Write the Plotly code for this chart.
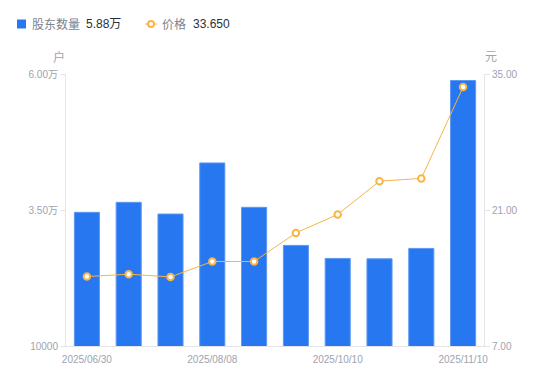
import plotly.graph_objects as go

dates = ["2025/06/30", "2025/07/10", "2025/07/20", "2025/08/08", "2025/08/20",
         "2025/09/10", "2025/10/10", "2025/10/20", "2025/10/31", "2025/11/10"]
holders = [34570, 36410, 34260, 43650, 35490, 28490, 26100, 26030, 27940, 58800]
prices = [14.15, 14.39, 14.11, 15.70, 15.70, 18.64, 20.54, 23.97, 24.25, 33.65]
left_ticks = [10000, 35000, 60000]
right_ticks = [7, 21, 35]
xtick_idx = [0, 3, 6, 9]

BLUE = "#2777f0"
ORANGE = "#f9b445"
GRAY = "#9ea3b0"
AXIS = "#e3e5ea"
FONT = "Liberation Sans, Noto Sans CJK SC, sans-serif"


def fmt_holder(v):
    return f"{v / 1e4:.2f}万" if v > 10000 else f"{v}"


fig = go.Figure()
fig.add_trace(go.Bar(x=dates, y=holders, marker=dict(color=BLUE, line=dict(width=1, color="#5d98f3")),
                     name="股东数量", yaxis="y", showlegend=False))
fig.add_trace(go.Scatter(x=dates, y=prices, mode="lines+markers", name="价格", yaxis="y2",
                         line=dict(color=ORANGE, width=1),
                         marker=dict(symbol="circle", size=6.5, color="white",
                                     line=dict(color=ORANGE, width=2)),
                         showlegend=False))

fig.update_layout(
    width=550, height=381, autosize=False,
    margin=dict(l=66, r=66, t=74, b=35, autoexpand=False),
    paper_bgcolor="white", plot_bgcolor="white",
    font=dict(family=FONT, size=10, color=GRAY),
    bargap=0.4,
    xaxis=dict(type="category", range=[-0.5, len(dates) - 0.5],
               showline=True, linecolor=AXIS, linewidth=1, automargin=False,
               showgrid=False, zeroline=False,
               ticks="outside", ticklen=4, tickcolor="rgba(0,0,0,0)",
               tickvals=[dates[i] for i in xtick_idx],
               ticktext=[dates[i] for i in xtick_idx],
               tickfont=dict(size=10, color=GRAY)),
    yaxis=dict(range=[left_ticks[0], left_ticks[-1]], tickvals=left_ticks, automargin=False,
               ticktext=[fmt_holder(v) for v in left_ticks],
               showline=True, linecolor=AXIS, linewidth=1, showgrid=False, zeroline=False,
               ticks="outside", ticklen=5, tickcolor=AXIS, tickfont=dict(size=10, color=GRAY)),
    yaxis2=dict(range=[right_ticks[0], right_ticks[-1]], tickvals=right_ticks, automargin=False,
                ticktext=[f"{v:.2f}" for v in right_ticks],
                overlaying="y", side="right",
                showline=True, linecolor=AXIS, linewidth=1, showgrid=False, zeroline=False,
                ticks="outside", ticklen=5, tickcolor=AXIS, tickfont=dict(size=10, color=GRAY)),
    hovermode=False,
)

W, H = 550 - 66 - 66, 381 - 74 - 35


def px(x):
    return (x - 66) / W


def py(y):
    return (381 - 35 - y) / H


anns = [
    dict(text="户", x=px(59), y=py(57), xanchor="center", yanchor="middle",
         font=dict(size=12, color=GRAY)),
    dict(text="元", x=px(490.5), y=py(57), xanchor="center", yanchor="middle",
         font=dict(size=12, color=GRAY)),
    dict(text="股东数量", x=px(30), y=py(24), xanchor="left", yanchor="middle",
         font=dict(size=12, color="#7d828e")),
    dict(text=fmt_holder(holders[-1]), x=px(84), y=py(24), xanchor="left", yanchor="middle",
         font=dict(size=12, color="#2b2f38")),
    dict(text="价格", x=px(160), y=py(24), xanchor="left", yanchor="middle",
         font=dict(size=12, color="#7d828e")),
    dict(text=f"{prices[-1]:.3f}", x=px(191), y=py(24), xanchor="left", yanchor="middle",
         font=dict(size=12, color="#2b2f38")),
]
for a in anns:
    a.update(xref="paper", yref="paper", showarrow=False)
fig.update_layout(annotations=anns)

shapes = [
    dict(type="rect", x0=px(17), x1=px(26), y0=py(28.5), y1=py(19.5),
         fillcolor=BLUE, line=dict(width=0)),
    dict(type="line", x0=px(145), x1=px(157), y0=py(24), y1=py(24),
         line=dict(color=ORANGE, width=1)),
    dict(type="circle", x0=px(148), x1=px(154), y0=py(27), y1=py(21),
         fillcolor="white", line=dict(color=ORANGE, width=2)),
]
for s in shapes:
    s.update(xref="paper", yref="paper", layer="above")
fig.update_layout(shapes=shapes)

fig.write_html("out.html", config={"displayModeBar": False},
               post_script="document.body.style.margin='0';document.body.style.overflow='hidden';")
